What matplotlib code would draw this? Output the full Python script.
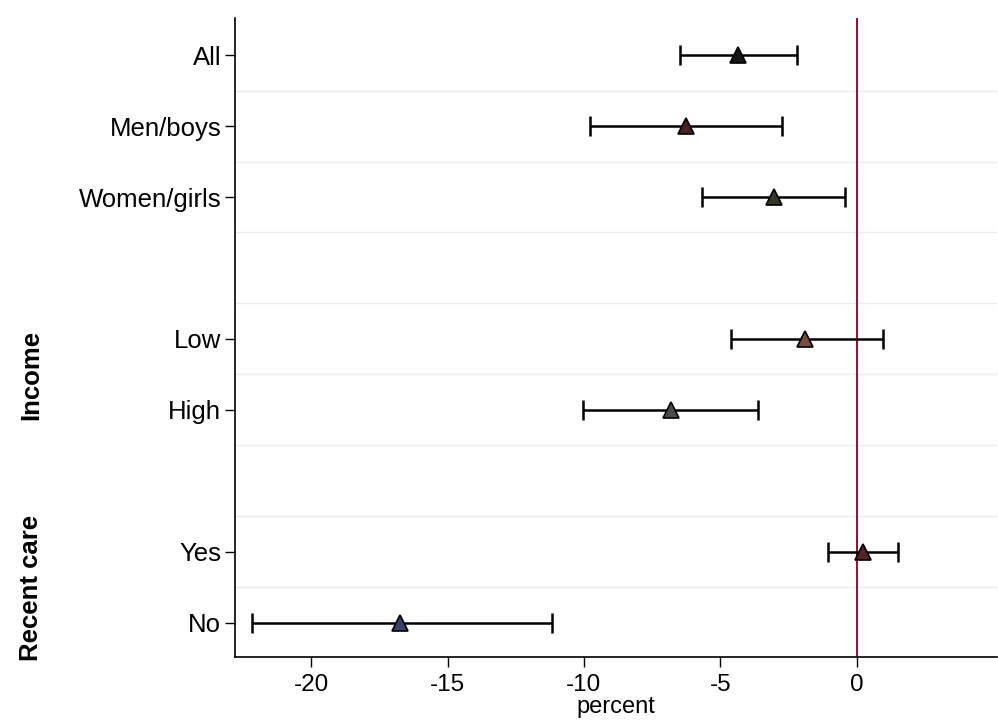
import numpy as np
import matplotlib
matplotlib.use("Agg")
import matplotlib.pyplot as plt

plt.rcParams['font.family'] = ['Liberation Sans', 'DejaVu Sans']

# =============================
# Data (percent change, 95% CI)
# =============================
labels = ["All", "Men/boys", "Women/girls", "Low", "High", "Yes", "No"]
rows = [0, 1, 2, 4, 5, 7, 8]          # row index (gaps between groups)
est = [-4.35, -6.27, -3.04, -1.89, -6.80, 0.24, -16.75]
lo = [-6.47, -9.78, -5.66, -4.60, -10.03, -1.05, -22.19]
hi = [-2.19, -2.72, -0.43, 0.96, -3.60, 1.52, -11.17]

groups = ["Income", "Recent care"]
group_rows = [4.5, 7.5]

xticks = [-20, -15, -10, -5, 0]

marker_fill = ["#151515", "#4a2020", "#38382a", "#7a4a40", "#4a4a4a", "#5a2028", "#38406a"]

# =============================
# Plot
# =============================
fig = plt.figure(figsize=(9.98, 7.24), dpi=100)
ax = fig.add_axes([0.2355, 0.0925, 0.7635, 0.8825])

# light horizontal separators between rows
for yy in np.arange(0.5, 8.0, 1.0):
    ax.axhline(yy, color="#ececec", lw=1.0, zorder=0)

ax.axvline(0, color="#8b1a3a", lw=1.5, zorder=1)

est_a = np.array(est)
err = [est_a - np.array(lo), np.array(hi) - est_a]
ax.errorbar(est, rows, xerr=err, fmt="none", ecolor="black",
            elinewidth=1.8, capsize=7, capthick=1.8, zorder=2)
for r, e, c in zip(rows, est, marker_fill):
    ax.plot(e, r, marker="^", ms=12, mfc=c, mec="black", mew=1.2,
            ls="none", zorder=3)

ax.set_xlim(-22.8, 5.15)
ax.set_ylim(8.48, -0.52)

ax.set_yticks(rows)
ax.set_yticklabels(labels, fontsize=18.5)
ax.set_xticks(xticks)
ax.set_xticklabels([str(t) for t in xticks], fontsize=17.5)
ax.tick_params(axis="both", length=7, width=1.0, color="black", pad=3)
ax.tick_params(axis="x", pad=5)
ax.set_xlabel("percent", fontsize=17, labelpad=0)

for g, gy in zip(groups, group_rows):
    ax.text(-0.268, gy, g, rotation=90, ha="center", va="center",
            fontsize=18.5, fontweight="bold",
            transform=ax.get_yaxis_transform())

ax.spines["top"].set_visible(False)
ax.spines["right"].set_visible(False)
ax.spines["left"].set_linewidth(1.2)
ax.spines["bottom"].set_linewidth(1.2)

fig.savefig("out.png", dpi=100)
